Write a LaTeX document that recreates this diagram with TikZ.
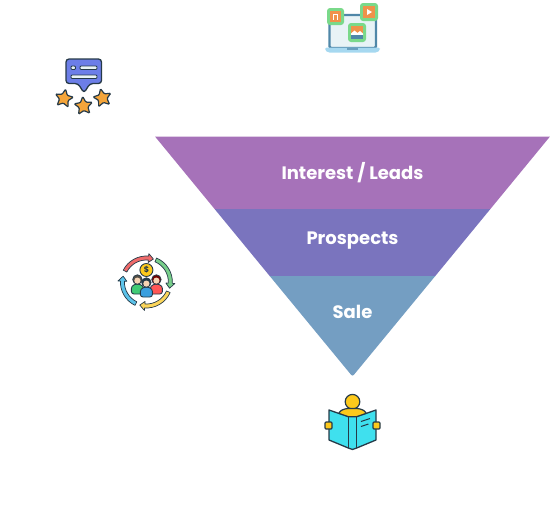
\documentclass[tikz,border=0pt]{standalone}
\usepackage{fontspec}
\setmainfont{Poppins}
\usetikzlibrary{positioning,shapes.geometric}

\definecolor{leadband}{HTML}{A672B9}
\definecolor{prospectband}{HTML}{7A74BE}
\definecolor{saleband}{HTML}{749EC2}
\definecolor{iconline}{HTML}{263A48}
\definecolor{tilegreen}{HTML}{7AD98A}
\definecolor{tileorange}{HTML}{F0924A}
\definecolor{screenblue}{HTML}{4F87A8}
\definecolor{screenlight}{HTML}{E8F3F6}
\definecolor{basesky}{HTML}{A6D8F0}
\definecolor{bubbleblue}{HTML}{6C7EE8}
\definecolor{staramber}{HTML}{F5A53A}
\definecolor{bookcyan}{HTML}{3FE0EE}
\definecolor{bookyellow}{HTML}{FDC91B}
\definecolor{skintone}{HTML}{F6D3B3}

\tikzset{
    bandlabel/.style={text=white, font=\bfseries\fontsize{18}{20}\selectfont, inner sep=0pt},
    ratestar/.style={star, star points=5, star point ratio=2.1, draw=iconline, line width=1.2pt,
        fill=staramber, minimum size=19pt, inner sep=0pt, rounded corners=1pt},
    tile/.style={fill=tilegreen, rounded corners=3pt},
    iconstroke/.style={draw=iconline, line width=1.1pt, line join=round}
}

% one person of the group
\newcommand{\crowdperson}[4]{
    \filldraw[fill=#3, draw=iconline, line width=0.9pt, rounded corners=2.5pt]
        (#1-6,#2-14) -- (#1-6,#2-6) -- (#1,#2-3.5) -- (#1+6,#2-6) -- (#1+6,#2-14) -- cycle;
    \filldraw[fill=#4, draw=iconline, line width=0.8pt] (#1,#2+0.5) circle (4.7pt);
    \fill[skintone] (#1,#2-0.6) circle (3.1pt);
}

\begin{document}
\begin{tikzpicture}[x=1pt, y=1pt]
    \useasboundingbox (0,0) rectangle (550,-512);

    % funnel
    \fill[leadband] (155,-136.5) -- (550,-136.5) -- (490.4,-209) -- (214.6,-209) -- cycle;
    \fill[prospectband] (214.6,-209) -- (490.4,-209) -- (435.3,-276) -- (269.7,-276) -- cycle;
    \fill[saleband, rounded corners=2pt] (269.7,-276) [sharp corners] -- (435.3,-276)
        [rounded corners=2pt] -- (352.5,-376.5) [sharp corners] -- cycle;

    \node[bandlabel] (leads) at (352.5,-172.5) {Interest / Leads};
    \node[bandlabel] (prospects) at (352.5,-240.5) {Prospects};
    \node[bandlabel] (sale) at (352.5,-312) {Sale};

    % laptop
    \filldraw[fill=screenlight, draw=screenblue, line width=2.4pt, rounded corners=1.5pt]
        (329.5,-48) rectangle (376,-15);
    \fill[basesky, rounded corners=1.5pt] (325,-47.5) -- (380,-47.5) -- (380,-50) -- (377,-52.5) -- (328,-52.5) -- (325,-50) -- cycle;
    \fill[screenblue!70!basesky] (347,-47.5) rectangle (358,-49.5);
    \fill[tile] (327,-8) rectangle (344,-25);
    \fill[tileorange] (330,-11) rectangle (341,-22);
    \draw[white, line width=1pt] (333.3,-19.5) -- (333.3,-14) -- (337.7,-14) -- (337.7,-19.5);
    \fill[tile] (360,-3) rectangle (378,-21);
    \fill[tileorange] (363,-6) rectangle (375,-18);
    \fill[white] (367,-9) -- (372,-12) -- (367,-15) -- cycle;
    \fill[tile] (348,-23) rectangle (366,-42);
    \fill[tileorange] (351,-26) rectangle (363,-39);
    \fill[white] (351,-33.5) -- (354.5,-30.5) -- (357.5,-33) -- (360,-31) -- (363,-33.5) -- (363,-35) -- (351,-35) -- cycle;
    \fill[screenblue] (351,-35) rectangle (363,-39);

    % rating bubble
    \filldraw[fill=bubbleblue, iconstroke, line width=1.3pt, rounded corners=3pt]
        (66,-59) -- (101.5,-59) -- (101.5,-83.5) -- (90,-83.5) -- (84,-93) -- (78,-83.5) -- (66,-83.5) -- cycle;
    \filldraw[fill=screenlight, iconstroke, line width=0.8pt, rounded corners=1pt] (71,-66) rectangle (75.5,-69.5);
    \filldraw[fill=screenlight, iconstroke, line width=0.8pt, rounded corners=1pt] (80,-66) rectangle (97,-69.5);
    \filldraw[fill=screenlight, iconstroke, line width=0.8pt, rounded corners=1pt] (71,-75) rectangle (97,-78.5);
    \node[ratestar, rotate=-10] (star1) at (64,-98.5) {};
    \node[ratestar, rotate=5] (star2) at (83.5,-106) {};
    \node[ratestar, rotate=12] (star3) at (102.5,-98) {};

    % customer cycle
    \begin{scope}[shift={(146.4,-282)}]
        \foreach \startang/\endang/\arrowcol in {153/85/EF6A6A, 67/-3/78CF8A, -24/-94/FBD55A, -116/-182/5CC3EA} {
            \definecolor{ringcol}{HTML}{\arrowcol}
            \filldraw[fill=ringcol, iconstroke, line width=0.7pt]
                (\startang:26pt) arc (\startang:\endang:26pt) -- (\endang:28.5pt)
                -- ({\endang-12}:24pt) -- (\endang:19.5pt) -- (\endang:22pt)
                arc (\endang:\startang:22pt) -- cycle;
        }
        \node[circle, draw=iconline, line width=0.9pt, fill=bookyellow, minimum size=13pt, inner sep=0pt,
            font=\bfseries\fontsize{8}{8}\selectfont, text=iconline] (coin) at (0,12) {\$};
        \crowdperson{-9}{2}{green!45!teal!75!white}{iconline!70!brown}
        \crowdperson{10}{2}{red!55!pink}{red!45!black}
        \crowdperson{0}{-1}{cyan!75!blue!80!white}{iconline}
    \end{scope}

    % reader
    \filldraw[fill=bookyellow, iconstroke, line width=1.2pt] (352.5,-401.7) circle (7.3pt);
    \filldraw[fill=bookyellow, iconstroke, line width=1.2pt, rounded corners=3pt]
        (338.5,-418) -- (338.5,-412) -- (345,-408.5) -- (360,-408.5) -- (366.5,-412) -- (366.5,-418) -- cycle;
    \filldraw[fill=bookcyan, iconstroke, line width=1.3pt]
        (329,-410) -- (348.3,-416.7) -- (356.7,-416.7) -- (376,-410) -- (376,-440)
        -- (356.7,-448) -- (352.5,-449.5) -- (348.3,-448) -- (329,-440) -- cycle;
    \draw[iconstroke, line width=1.3pt] (348.3,-416.7) -- (348.3,-448) (356.7,-416.7) -- (356.7,-448);
    \draw[iconstroke, line width=1pt] (361,-421.5) -- (370,-418.5) (361,-426.5) -- (368.5,-424);
    \filldraw[fill=bookyellow, iconstroke, line width=1.2pt, rounded corners=1pt] (325,-422) rectangle (332,-429);
    \filldraw[fill=bookyellow, iconstroke, line width=1.2pt, rounded corners=1pt] (373,-422) rectangle (380,-429);
\end{tikzpicture}
\end{document}
